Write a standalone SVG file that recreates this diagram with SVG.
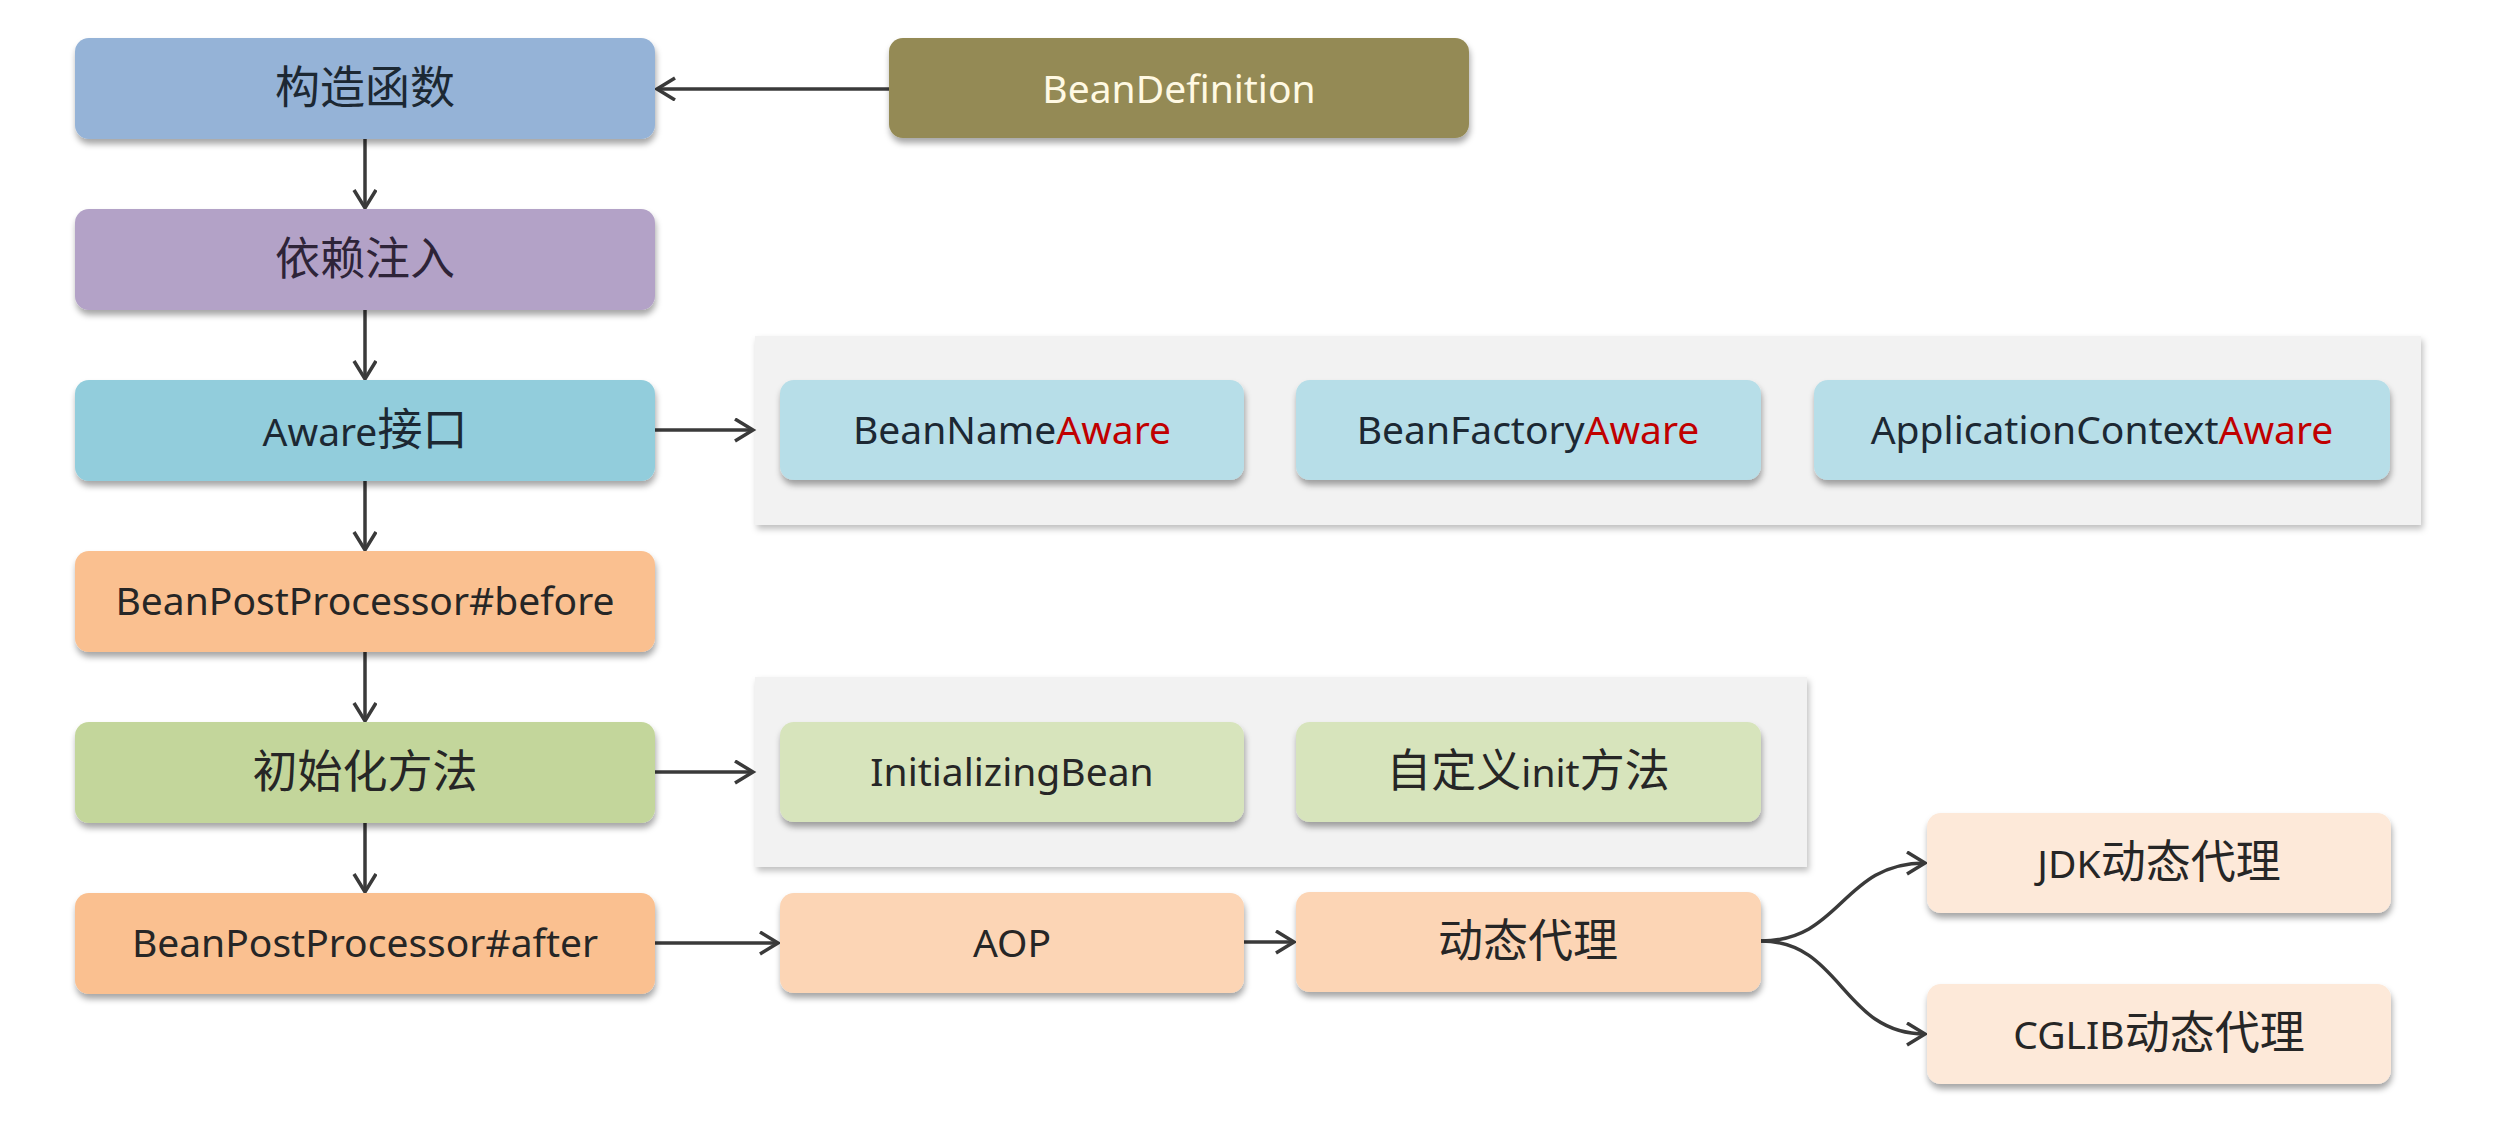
<svg xmlns="http://www.w3.org/2000/svg" width="2510" height="1128" viewBox="0 0 2510 1128">
<defs>
<filter id="sh" x="-5%" y="-20%" width="110%" height="150%">
<feDropShadow dx="1" dy="5" stdDeviation="3" flood-color="#000" flood-opacity="0.35"/>
</filter>
<filter id="psh" x="-2%" y="-5%" width="104%" height="115%">
<feDropShadow dx="2" dy="4" stdDeviation="3" flood-color="#000" flood-opacity="0.25"/>
</filter>
<marker id="arr" markerUnits="userSpaceOnUse" markerWidth="26" markerHeight="28" refX="20" refY="12" orient="auto">
<path d="M2,1 L20,12 L2,23" fill="none" stroke="#3a3a3a" stroke-width="3.5" stroke-linejoin="miter"/>
</marker>
</defs>
<style>
text{font-family:"Noto Sans","Noto Sans CJK SC",sans-serif;font-size:39px;fill:#262626;text-anchor:middle}
.cjk{font-family:"Noto Sans CJK SC","Noto Sans",sans-serif;font-size:45px}
.dk{fill:#1c2833}
.red{fill:#c00000}
.box{filter:url(#sh)}
.panel{fill:#f2f2f2;filter:url(#psh)}
.c{fill:none;stroke:#3a3a3a;stroke-width:3.5;marker-end:url(#arr)}
</style>
<rect width="2510" height="1128" fill="#ffffff"/>

<g id="panel-aware"><rect class="panel" x="755" y="336" width="1666" height="189"/></g>
<g id="panel-init"><rect class="panel" x="755" y="677" width="1052" height="190"/></g>

<g id="connectors">
<path class="c" d="M365,139 L365,208"/>
<path class="c" d="M365,310 L365,379"/>
<path class="c" d="M365,481 L365,550"/>
<path class="c" d="M365,652 L365,721"/>
<path class="c" d="M365,823 L365,892"/>
<path class="c" d="M889,89 L657,89"/>
<path class="c" d="M655,430 L753,430"/>
<path class="c" d="M655,772 L753,772"/>
<path class="c" d="M655,943 L778,943"/>
<path class="c" d="M1244,942 L1294,942"/>
<path class="c" d="M1761,941 C1842,941 1842,863 1925,863"/>
<path class="c" d="M1761,941 C1842,941 1842,1034 1925,1034"/>
</g>

<g id="n-constructor"><rect class="box" x="75" y="38" width="580" height="101" rx="14" fill="#95b3d7"/><text class="cjk dk" x="365" y="104">构造函数</text></g>
<g id="n-beandef"><rect class="box" x="889" y="38" width="580" height="100" rx="14" fill="#948a54"/><text x="1179" y="103" fill="#fff9e3" style="fill:#fff9e3">BeanDefinition</text></g>
<g id="n-di"><rect class="box" x="75" y="209" width="580" height="101" rx="14" fill="#b3a2c7"/><text class="cjk" x="365" y="275" style="fill:#2e2438">依赖注入</text></g>
<g id="n-aware"><rect class="box" x="75" y="380" width="580" height="101" rx="14" fill="#92cddc"/><text class="dk" x="365" y="446">Aware<tspan class="cjk">接口</tspan></text></g>
<g id="n-beanname"><rect class="box" x="780" y="380" width="464" height="100" rx="14" fill="#b7dee8"/><text class="dk" x="1012" y="444">BeanName<tspan class="red">Aware</tspan></text></g>
<g id="n-beanfactory"><rect class="box" x="1296" y="380" width="465" height="100" rx="14" fill="#b7dee8"/><text class="dk" x="1528" y="444">BeanFactory<tspan class="red">Aware</tspan></text></g>
<g id="n-appctx"><rect class="box" x="1814" y="380" width="576" height="100" rx="14" fill="#b7dee8"/><text class="dk" x="2102" y="444">ApplicationContext<tspan class="red">Aware</tspan></text></g>
<g id="n-bpp-before"><rect class="box" x="75" y="551" width="580" height="101" rx="14" fill="#fac090"/><text x="365" y="615">BeanPostProcessor#before</text></g>
<g id="n-init"><rect class="box" x="75" y="722" width="580" height="101" rx="14" fill="#c3d69b"/><text class="cjk" x="365" y="788">初始化方法</text></g>
<g id="n-initbean"><rect class="box" x="780" y="722" width="464" height="100" rx="14" fill="#d7e4bc"/><text x="1012" y="786">InitializingBean</text></g>
<g id="n-custominit"><rect class="box" x="1296" y="722" width="465" height="100" rx="14" fill="#d7e4bc"/><text class="cjk" x="1528" y="787">自定义<tspan style="font-family:'Noto Sans',sans-serif;font-size:39px">init</tspan>方法</text></g>
<g id="n-bpp-after"><rect class="box" x="75" y="893" width="580" height="101" rx="14" fill="#fac090"/><text x="365" y="957">BeanPostProcessor#after</text></g>
<g id="n-aop"><rect class="box" x="780" y="893" width="464" height="100" rx="14" fill="#fcd5b5"/><text x="1012" y="957">AOP</text></g>
<g id="n-proxy"><rect class="box" x="1296" y="892" width="465" height="100" rx="14" fill="#fcd5b5"/><text class="cjk" x="1528" y="957">动态代理</text></g>
<g id="n-jdk"><rect class="box" x="1927" y="813" width="464" height="100" rx="14" fill="#fde9d9"/><text x="2159" y="878">JDK<tspan class="cjk">动态代理</tspan></text></g>
<g id="n-cglib"><rect class="box" x="1927" y="984" width="464" height="100" rx="14" fill="#fde9d9"/><text x="2159" y="1049">CGLIB<tspan class="cjk">动态代理</tspan></text></g>
</svg>
